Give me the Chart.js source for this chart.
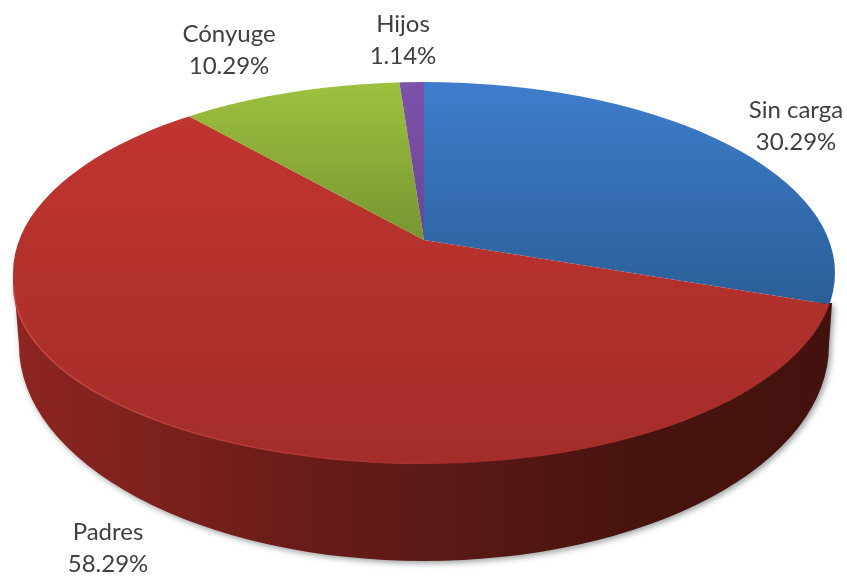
<!DOCTYPE html>
<html>
<head>
<meta charset="utf-8">
<title>Carga</title>
<script src="https://cdn.jsdelivr.net/npm/chart.js@4"></script>
<style>
  html, body { margin: 0; padding: 0; background: #fff; }
  #wrap { position: relative; width: 847px; height: 576px; }
</style>
</head>
<body>
<div id="wrap"><canvas id="grafico" width="847" height="576"></canvas></div>
<script>
const categorias = ['Sin carga', 'Padres', 'Cónyuge', 'Hijos'];
const valores = [30.29, 58.29, 10.29, 1.14];

// top and bottom colour of each slice
const coloresArriba = ['#3f7dcc', '#c4352f', '#9dc13f', '#7d52ab'];
const coloresAbajo = ['#2a5f98', '#a32d2a', '#779632', '#6a4594'];

// where each label goes: centre x, first baseline
const posEtiquetas = [[796, 118], [108, 540], [229, 42], [403, 32]];

// the disc as seen in the picture
const apice = { x: 424, y: 240 };
const escala = { x: 2, y: 0.92 };
const tapa = { x: 424, y: 273, rx: 411, ry: 191 };
const base = { x: 424, y: 345, rx: 405, ry: 216 };

function centro(chart) {
  const a = chart.chartArea;
  return { x: (a.left + a.right) / 2, y: (a.top + a.bottom) / 2 };
}

// page y -> y inside the scaled drawing
function yInterno(chart, y) {
  return centro(chart).y + (y - apice.y) / escala.y;
}

function relleno(context) {
  const chart = context.chart;
  if (!chart.chartArea) return coloresArriba[context.dataIndex];
  const g = chart.ctx.createLinearGradient(0, yInterno(chart, 82), 0, yInterno(chart, 465));
  const i = context.dataIndex;
  if (i === 0) {
    // blue only reaches down to about y=303
    g.addColorStop(0, coloresArriba[i]);
    g.addColorStop(0.58, coloresAbajo[i]);
  } else if (i === 2 || i === 3) {
    g.addColorStop(0, coloresArriba[i]);
    g.addColorStop(0.41, coloresAbajo[i]);
  } else {
    g.addColorStop(0, coloresArriba[i]);
    g.addColorStop(1, coloresAbajo[i]);
  }
  return g;
}

// the front left quarter of the top sits a little lower than the rest
function caminoTapa(ctx) {
  const { x, y, rx, ry } = tapa;
  const bajo = 12;
  ctx.beginPath();
  ctx.ellipse(x, y, rx, ry, 0, Math.PI, Math.PI * 1.5);
  ctx.ellipse(x, y, rx, ry, 0, Math.PI * 1.5, Math.PI * 2);
  ctx.ellipse(x, y, rx, ry, 0, 0, Math.PI / 2);
  ctx.ellipse(x, y + bajo, rx, ry - bajo, 0, Math.PI / 2, Math.PI);
  ctx.closePath();
}

function pared(ctx) {
  ctx.save();
  ctx.shadowColor = 'rgba(60,70,70,0.55)';
  ctx.shadowBlur = 6;
  ctx.shadowOffsetX = 2;
  ctx.shadowOffsetY = 2;
  const g = ctx.createLinearGradient(13, 0, 835, 0);
  g.addColorStop(0, '#8e2522');
  g.addColorStop(0.17, '#7c211d');
  g.addColorStop(0.35, '#6a1c18');
  g.addColorStop(0.5, '#5c1a16');
  g.addColorStop(0.77, '#47130f');
  g.addColorStop(1, '#44120e');
  ctx.fillStyle = g;
  ctx.beginPath();
  ctx.moveTo(tapa.x - tapa.rx, tapa.y);
  ctx.lineTo(base.x - base.rx, base.y);
  ctx.ellipse(base.x, base.y, base.rx, base.ry, 0, Math.PI, 0, true);
  ctx.lineTo(832, 303);
  ctx.closePath();
  ctx.fill();
  ctx.restore();
}

const pie3d = {
  id: 'pie3d',
  beforeDatasetsDraw(chart) {
    const ctx = chart.ctx;
    const c = centro(chart);
    pared(ctx);
    ctx.save();
    caminoTapa(ctx);
    ctx.clip();
    ctx.translate(apice.x, apice.y);
    ctx.scale(escala.x, escala.y);
    ctx.translate(-c.x, -c.y);
  },
  afterDatasetsDraw(chart) {
    const ctx = chart.ctx;
    ctx.restore();

    // lighter rim along the front edge
    const g = ctx.createLinearGradient(13, 0, 500, 0);
    g.addColorStop(0, 'rgba(225,95,85,0.55)');
    g.addColorStop(1, 'rgba(225,95,85,0)');
    ctx.save();
    ctx.strokeStyle = g;
    ctx.lineWidth = 1.5;
    ctx.beginPath();
    ctx.ellipse(tapa.x, tapa.y + 12, tapa.rx - 0.5, tapa.ry - 12.5, 0, Math.PI, Math.PI / 2, true);
    ctx.stroke();
    ctx.restore();

    // labels
    ctx.save();
    ctx.fillStyle = '#404040';
    ctx.font = '24px Lato, "Open Sans", sans-serif';
    ctx.textAlign = 'center';
    ctx.textBaseline = 'alphabetic';
    categorias.forEach((nombre, i) => {
      const [x, y] = posEtiquetas[i];
      ctx.fillText(nombre, x, y);
      ctx.fillText(valores[i].toFixed(2) + '%', x, y + 32);
    });
    ctx.restore();
  }
};

new Chart(document.getElementById('grafico'), {
  type: 'pie',
  data: {
    labels: categorias,
    datasets: [{
      data: valores,
      backgroundColor: relleno,
      borderWidth: 0
    }]
  },
  options: {
    responsive: false,
    animation: false,
    layout: { padding: 0 },
    plugins: {
      legend: { display: false },
      tooltip: { enabled: false }
    }
  },
  plugins: [pie3d]
});
</script>
</body>
</html>
